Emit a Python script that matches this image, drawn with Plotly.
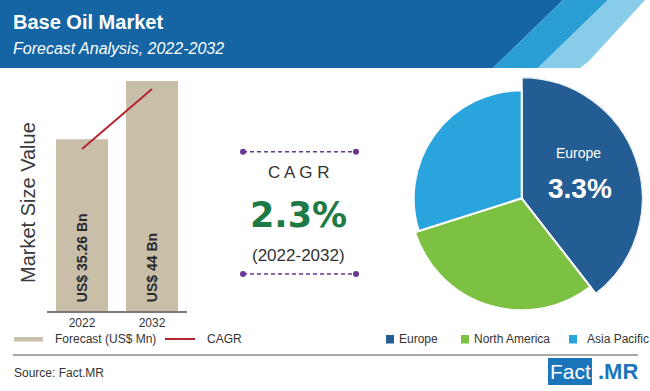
import plotly.graph_objects as go

# ---------------- data ----------------
years = ["2022", "2032"]
market_value = [35.26, 44.0]            # US$ Bn
bar_labels = ["US$ 35.26 Bn", "US$ 44 Bn"]
cagr_line = [33.8, 42.8]                # trend line
cagr_value = "2.3%"
cagr_period = "(2022-2032)"

regions = ["Europe", "North America", "Asia Pacific"]
region_share = [39.5, 30.6, 29.9]        # slice angles (%)
europe_cagr = "3.3%"

# ---------------- styles ----------------
W, H = 650, 391
beige = "#c9bfa9"
red = "#b3242f"
reg_colors = ["#245d93", "#7cc142", "#29a4dd"]
slice_radius = [121, 112, 108]           # px, rose-style slice radii
purple = "#6a3794"
green = "#1d7a44"
txt = "#333333"
y_min = 9.5


def px(x):
    return x / W


def py(y):
    return 1 - y / H


fig = go.Figure()

# bars
fig.add_trace(go.Bar(
    x=years, y=market_value, marker=dict(color=beige, line=dict(width=0)),
    hoverinfo="skip", showlegend=False, xaxis="x", yaxis="y"))

# CAGR line
fig.add_trace(go.Scatter(
    x=years, y=cagr_line, mode="lines", line=dict(color=red, width=2),
    hoverinfo="skip", showlegend=False, xaxis="x", yaxis="y"))

# rose-style pie via barpolar
total = sum(region_share)
widths, centers, start = [], [], 0.0
for s in region_share:
    w = s / total * 360
    widths.append(w)
    centers.append(start + w / 2)
    start += w
fig.add_trace(go.Barpolar(
    r=slice_radius, theta=centers, width=widths,
    marker=dict(color=reg_colors, line=dict(color="white", width=2)),
    hoverinfo="skip", showlegend=False, subplot="polar"))

# pie geometry
cx, cy, R = 521.7, 198.3, 121

shapes = []


def poly(pts, color):
    path = "M " + " L ".join(f"{px(a)},{py(b)}" for a, b in pts) + " Z"
    return dict(type="path", path=path, xref="paper", yref="paper",
                fillcolor=color, line=dict(width=0), layer="below")


# header band
shapes.append(poly([(0, 0), (563, 0), (493, 68), (0, 68)], "#1565a4"))
shapes.append(poly([(563, 0), (608, 0), (538, 68), (493, 68)], "#2b9fd5"))
shapes.append(poly([(608, 0), (645, 0), (588, 62), (580, 68), (538, 68)], "#87cde9"))

# CAGR dotted rules
for yy in (151.7, 274):
    shapes.append(dict(type="line", xref="paper", yref="paper",
                       x0=px(243), x1=px(356), y0=py(yy), y1=py(yy),
                       line=dict(color=purple, width=1.5, dash="4px,3px")))
    for xx in (243, 356):
        shapes.append(dict(type="circle", xref="paper", yref="paper",
                           x0=px(xx - 3), x1=px(xx + 3), y0=py(yy + 3), y1=py(yy - 3),
                           fillcolor=purple, line=dict(width=0)))

# legend (bottom left)
shapes.append(dict(type="rect", xref="paper", yref="paper",
                   x0=px(14), x1=px(43), y0=py(341.5), y1=py(337),
                   fillcolor=beige, line=dict(width=0)))
shapes.append(dict(type="line", xref="paper", yref="paper",
                   x0=px(165), x1=px(195), y0=py(339), y1=py(339),
                   line=dict(color=red, width=2)))
# legend (bottom right)
for x0, c in zip((386, 461, 569), reg_colors):
    shapes.append(dict(type="rect", xref="paper", yref="paper",
                       x0=px(x0), x1=px(x0 + 8), y0=py(343.5), y1=py(335),
                       fillcolor=c, line=dict(width=0)))
# separator
shapes.append(dict(type="line", xref="paper", yref="paper",
                   x0=px(13), x1=px(638), y0=py(355), y1=py(355),
                   line=dict(color="#a9a9a9", width=2)))
# Fact.MR logo box
shapes.append(dict(type="rect", xref="paper", yref="paper",
                   x0=px(548), x1=px(592), y0=py(385), y1=py(358),
                   fillcolor="#1a75bb", line=dict(width=0)))


def ann(text, x, y, size, color=txt, family="Liberation Sans", xanchor="center",
        weight="normal", style="normal", angle=0):
    return dict(text=text, x=px(x), y=py(y), xref="paper", yref="paper",
                xanchor=xanchor, yanchor="middle", showarrow=False, textangle=angle,
                font=dict(family=family, size=size, color=color, weight=weight, style=style))


annotations = [
    ann("Base Oil Market", 11, 21.5, 20, "white", weight="bold", xanchor="left"),
    ann("Forecast Analysis, 2022-2032", 11, 48, 16, "white", style="italic", xanchor="left"),
    ann("Market Size Value", 28, 203, 20, "#3a3a3a", angle=-90),
    ann("C A G R", 298, 172, 17, txt),
    ann(cagr_value, 298.5, 215, 35, green, family="DejaVu Sans", weight="bold"),
    ann(cagr_period, 298.5, 255, 17, txt),
    ann("Europe", 578.5, 153, 14, "white"),
    ann(europe_cagr, 579.5, 188, 28, "white", weight="bold"),
    ann("Forecast (US$ Mn)", 53, 339, 12, txt, xanchor="left"),
    ann("CAGR", 205, 339, 12, txt, xanchor="left"),
    ann(regions[0], 397, 339, 12, txt, xanchor="left"),
    ann(regions[1], 472, 339, 12, txt, xanchor="left"),
    ann(regions[2], 585, 339, 12, txt, xanchor="left"),
    ann("Source: Fact.MR", 12, 373, 12, txt, xanchor="left"),
    ann("Fact", 570, 371.5, 21, "white"),
    ann(".MR", 596, 371.5, 22, "#1a75bb", weight="bold", xanchor="left"),
]

# value labels written up the bars, anchored at the bar bottoms
for i, lab in enumerate(bar_labels):
    annotations.append(dict(
        text=lab, x=i, y=y_min + 0.2, xref="x", yref="y", xanchor="center",
        yanchor="bottom", yshift=5, showarrow=False, textangle=-90,
        font=dict(family="Liberation Sans", size=14, color="#2a2a2a", weight="bold")))

fig.update_layout(
    width=W, height=H, margin=dict(l=0, r=0, t=0, b=0),
    paper_bgcolor="white", plot_bgcolor="rgba(0,0,0,0)",
    bargap=0.257, showlegend=False,
    xaxis=dict(domain=[px(47), px(187)], type="category", range=[-0.5, 1.5],
               showline=True, linecolor="#7a7a7a", linewidth=1.5,
               ticks="", showgrid=False, zeroline=False,
               tickfont=dict(family="Liberation Sans", size=12, color=txt),
               fixedrange=True),
    yaxis=dict(domain=[py(311), py(81)], range=[y_min, 44], visible=False,
               showgrid=False, zeroline=False, fixedrange=True),
    polar=dict(domain=dict(x=[px(cx - R), px(cx + R)], y=[py(cy + R), py(cy - R)]),
               radialaxis=dict(visible=False, range=[0, R]),
               angularaxis=dict(visible=False, rotation=90, direction="clockwise"),
               bgcolor="rgba(0,0,0,0)", hole=0),
    shapes=shapes, annotations=annotations,
)

fig.write_html("out.html", config={"displayModeBar": False},
               post_script="document.body.style.margin='0';document.body.style.padding='0';")
